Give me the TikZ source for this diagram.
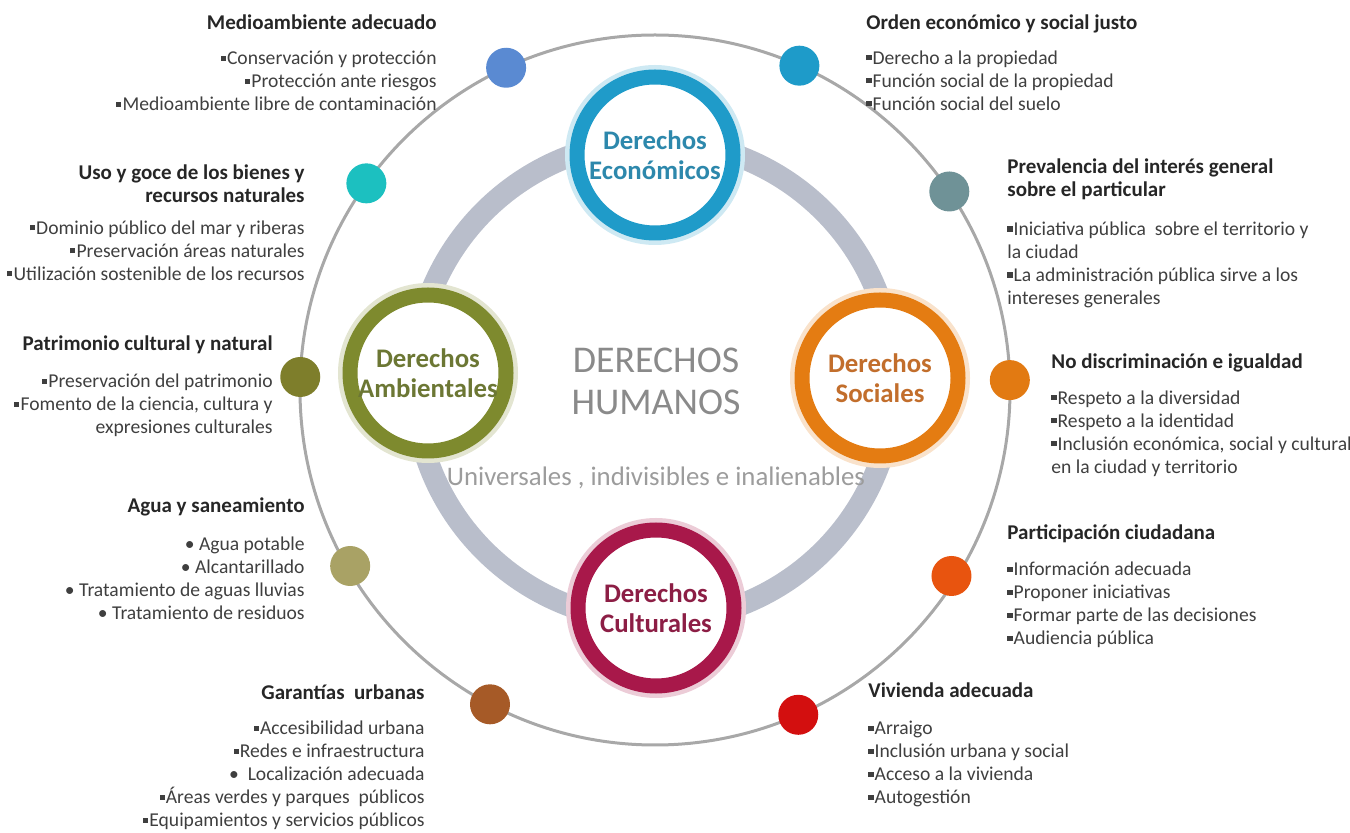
\documentclass[tikz,border=0pt]{standalone}
\usepackage{fontspec}
\setmainfont{Carlito}
\usepackage{tikz}
\usetikzlibrary{positioning}

\definecolor{headgray}{HTML}{262626}
\definecolor{itemgray}{HTML}{3F3F3F}
\definecolor{linegray}{HTML}{A8A8A8}
\definecolor{ringgray}{HTML}{B9BECB}
\definecolor{humgray}{HTML}{8A8A8A}
\definecolor{univgray}{HTML}{9C9C9C}
% big circles
\definecolor{ecoblue}{HTML}{1F9BC9}
\definecolor{ecotext}{HTML}{2D88AC}
\definecolor{socorange}{HTML}{E47C12}
\definecolor{soctext}{HTML}{C26E2C}
\definecolor{ambolive}{HTML}{7E8A2E}
\definecolor{ambtext}{HTML}{6C7734}
\definecolor{culred}{HTML}{A8184A}
\definecolor{cultext}{HTML}{8C1E45}
% small dots
\definecolor{medblue}{HTML}{5A8AD2}
\definecolor{ordblue}{HTML}{1E9BC9}
\definecolor{usoturq}{HTML}{1CC0C0}
\definecolor{pregray}{HTML}{6F9297}
\definecolor{patolive}{HTML}{7E7E2B}
\definecolor{disorange}{HTML}{E27A12}
\definecolor{agukhaki}{HTML}{A9A265}
\definecolor{parorange}{HTML}{E8540F}
\definecolor{garbrown}{HTML}{A65A27}
\definecolor{vivred}{HTML}{D30F0F}

\newcommand{\sqb}{\rule[0.2em]{0.26em}{0.26em}\hspace{0.06em}}

\begin{document}
\begin{tikzpicture}[x=0.5pt,y=0.5pt]
  \tikzstyle{dot}=[circle,minimum size=20pt,inner sep=0pt]
  \tikzstyle{ring}=[circle,line width=7.5pt,minimum size=78pt,inner sep=0pt,
    fill=white,align=center,font=\bfseries\fontsize{13.4}{15}\selectfont]
  \tikzstyle{halo}=[preaction={draw=#1!22,line width=12pt}]
  \tikzstyle{head}=[inner sep=0pt,text=headgray,
    font=\bfseries\fontsize{10.5}{11.8}\selectfont]
  \tikzstyle{items}=[inner sep=0pt,text=itemgray,
    font=\fontsize{9.8}{11.5}\selectfont]

  \useasboundingbox (0,0) rectangle (1350,-833);

  \coordinate (O) at (655,-390);
  \coordinate (H) at (654,-381);

  % thin outer circle and thick ring behind the four rights
  \draw[linegray,line width=1.5pt] (O) circle [radius=355];
  \draw[ringgray,line width=11pt] (H) circle [radius=240];

  \node[ring,halo=ecoblue,draw=ecoblue,text=ecotext] (eco) at (655,-155) {Derechos\\Económicos};
  \node[ring,halo=socorange,draw=socorange,text=soctext] (soc) at (880,-378) {Derechos\\Sociales};
  \node[ring,halo=ambolive,draw=ambolive,text=ambtext] (amb) at (428,-373) {Derechos\\Ambientales};
  \node[ring,halo=culred,draw=culred,text=cultext] (cul) at (656,-608) {Derechos\\Culturales};

  \node[text=humgray,align=center,font=\fontsize{18.9}{21}\selectfont] (dh) at (656,-381) {DERECHOS\\HUMANOS};
  \node[text=univgray,font=\fontsize{13.4}{15}\selectfont] (univ) at (656,-478) {Universales , indivisibles e inalienables};

  % dots on the outer circle
  \begin{scope}[shift={(O)}]
    \node[dot,fill=medblue] (med) at (114.8:355) {};
    \node[dot,fill=ordblue] (ord) at (66.0:355) {};
    \node[dot,fill=usoturq] (uso) at (144.4:355) {};
    \node[dot,fill=pregray] (pre) at (34.0:355) {};
    \node[dot,fill=patolive] (pat) at (177.9:355) {};
    \node[dot,fill=disorange] (dis) at (1.6:355) {};
    \node[dot,fill=agukhaki] (agu) at (210.0:352) {};
    \node[dot,fill=parorange] (par) at (-32.1:350) {};
    \node[dot,fill=garbrown] (gar) at (242.3:355) {};
    \node[dot,fill=vivred] (viv) at (-66.2:355) {};
  \end{scope}

  % left side
  \node[head,anchor=north east] (medT) at (437,-14) {Medioambiente adecuado};
  \node[items,align=right,below left=10.5pt and 0pt of medT.south east] (medL)
    {\sqb Conservación y protección\\\sqb Protección ante riesgos\\\sqb Medioambiente libre de contaminación};

  \node[head,anchor=north east,align=right] (usoT) at (305,-164) {Uso y goce de los bienes y\\recursos naturales};
  \node[items,align=right,below left=8.5pt and 0pt of usoT.south east] (usoL)
    {\sqb Dominio público del mar y riberas\\\sqb Preservación áreas naturales\\\sqb Utilización sostenible de los recursos};

  \node[head,anchor=north east] (patT) at (273,-335) {Patrimonio cultural y natural};
  \node[items,align=right,below left=10pt and 0pt of patT.south east] (patL)
    {\sqb Preservación del patrimonio\\\sqb Fomento de la ciencia, cultura y\\expresiones culturales};

  \node[head,anchor=north east] (aguT) at (305,-497) {Agua y saneamiento};
  \node[items,align=right,below left=10pt and 0pt of aguT.south east] (aguL)
    {\textbullet\ Agua potable\\\textbullet\ Alcantarillado\\\textbullet\ Tratamiento de aguas lluvias\\\textbullet\ Tratamiento de residuos};

  \node[head,anchor=north east] (garT) at (425,-684) {Garantías\ \ urbanas};
  \node[items,align=right,below left=10.5pt and 0pt of garT.south east] (garL)
    {\sqb Accesibilidad urbana\\\sqb Redes e infraestructura\\\textbullet\ \ Localización adecuada\\\sqb Áreas verdes y parques\ \ públicos\\\sqb Equipamientos y servicios públicos};

  % right side
  \node[head,anchor=north west] (ordT) at (866,-14) {Orden económico y social justo};
  \node[items,align=left,below right=8.5pt and 0pt of ordT.south west] (ordL)
    {\sqb Derecho a la propiedad\\\sqb Función social de la propiedad\\\sqb Función social del suelo};

  \node[head,anchor=north west,align=left] (preT) at (1007,-158) {Prevalencia del interés general\\sobre el particular};
  \node[items,align=left,below right=10.5pt and 0pt of preT.south west] (preL)
    {\sqb Iniciativa pública\ \ sobre el territorio y\\la ciudad\\\sqb La administración pública sirve a los\\intereses generales};

  \node[head,anchor=north west] (disT) at (1051,-353) {No discriminación e igualdad};
  \node[items,align=left,below right=9pt and 0pt of disT.south west] (disL)
    {\sqb Respeto a la diversidad\\\sqb Respeto a la identidad\\\sqb Inclusión económica, social y cultural\\en la ciudad y territorio};

  \node[head,anchor=north west] (parT) at (1007,-524) {Participación ciudadana};
  \node[items,align=left,below right=9.5pt and 0pt of parT.south west] (parL)
    {\sqb Información adecuada\\\sqb Proponer iniciativas\\\sqb Formar parte de las decisiones\\\sqb Audiencia pública};

  \node[head,anchor=north west] (vivT) at (868,-682) {Vivienda adecuada};
  \node[items,align=left,below right=11.5pt and 0pt of vivT.south west] (vivL)
    {\sqb Arraigo\\\sqb Inclusión urbana y social\\\sqb Acceso a la vivienda\\\sqb Autogestión};
\end{tikzpicture}
\end{document}
